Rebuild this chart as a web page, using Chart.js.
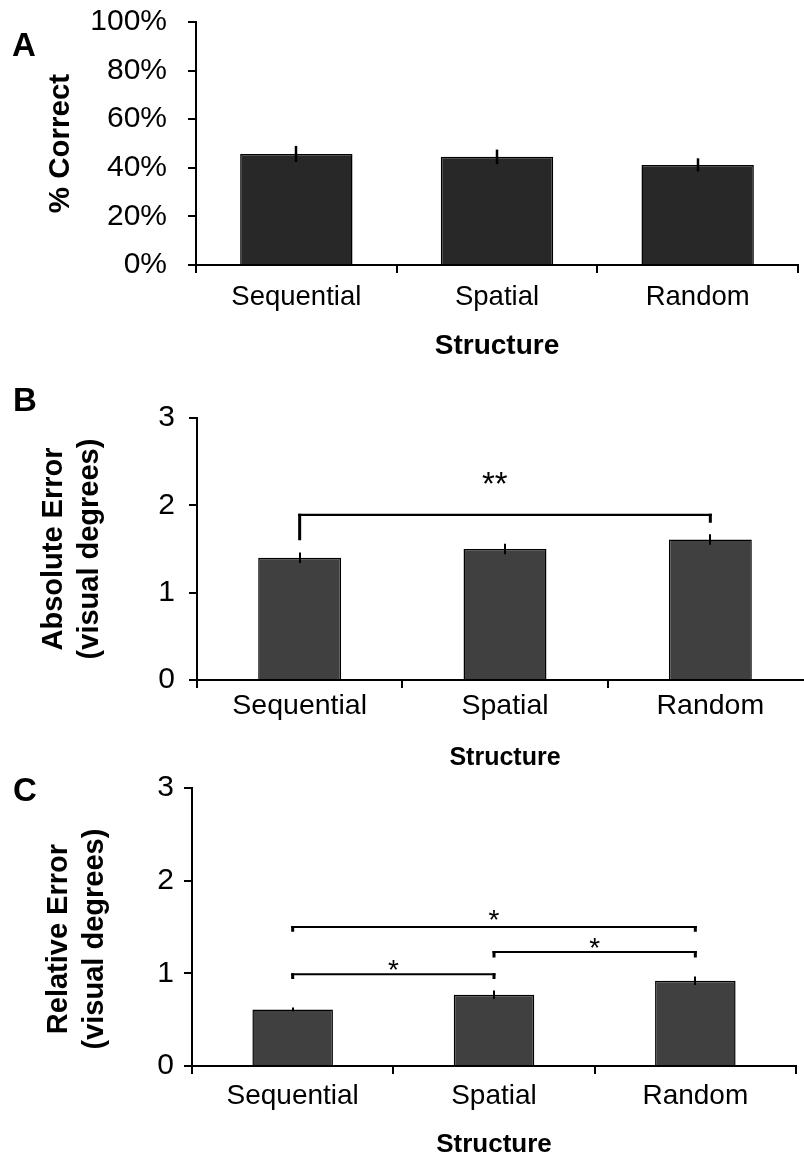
<!DOCTYPE html>
<html>
<head>
<meta charset="utf-8">
<script src="https://cdn.jsdelivr.net/npm/chart.js@4.4.1/dist/chart.umd.min.js"></script>
<style>
  html, body { margin: 0; padding: 0; background: #fff; overflow: hidden; width: 804px; height: 1157px; }
  .panel { position: absolute; left: 0; }
  #wrapA { top: 0; }
  #wrapB { top: 370px; }
  #wrapC { top: 770px; }
</style>
</head>
<body>
<div class="panel" id="wrapA"><canvas id="chartA" width="804" height="370"></canvas></div>
<div class="panel" id="wrapB"><canvas id="chartB" width="820" height="410"></canvas></div>
<div class="panel" id="wrapC"><canvas id="chartC" width="804" height="395"></canvas></div>
<script>
// ---- data ----
const categories = ['Sequential', 'Spatial', 'Random'];

// Panel A: accuracy (% correct) with standard error
const correctPct = [45.7, 44.5, 41.2];
const correctSE = [3.3, 3.0, 2.7];

// Panel B: absolute error (visual degrees) with standard error
const absError = [1.40, 1.50, 1.61];
const absErrorSE = [0.06, 0.06, 0.06];

// Panel C: relative error (visual degrees) with standard error
const relError = [0.61, 0.77, 0.92];
const relErrorSE = [0.02, 0.045, 0.045];

// Significance brackets (category indices, values in axis units)
const absBrackets = [
  { from: 0, to: 2, level: 1.89, fromEnd: 1.60, toEnd: 1.80, mark: '**', markAt: 0.95, markLevel: 2.33 }
];
const relBrackets = [
  { from: 0, to: 2, level: 1.50, fromEnd: 1.45, toEnd: 1.45, mark: '*', markAt: 1.0, markLevel: 1.65 },
  { from: 1, to: 2, level: 1.23, fromEnd: 1.17, toEnd: 1.17, mark: '*', markAt: 1.5, markLevel: 1.34 },
  { from: 0, to: 1, level: 0.99, fromEnd: 0.94, toEnd: 0.94, mark: '*', markAt: 0.5, markLevel: 1.11 }
];

const FONT = "'Liberation Sans', Arial, Helvetica, sans-serif";

// Error bars, significance brackets and the panel letter
const annotate = {
  id: 'annotate',
  afterDatasetsDraw(chart, args, opts) {
    const ctx = chart.ctx;
    const xs = chart.scales.x, ys = chart.scales.y;
    const meta = chart.getDatasetMeta(0);
    const values = chart.data.datasets[0].data;
    ctx.save();
    ctx.strokeStyle = '#000';
    ctx.lineCap = 'butt';
    // error bars
    ctx.lineWidth = opts.errWidth;
    (opts.errors || []).forEach((e, i) => {
      const px = Math.round(meta.data[i].x);
      ctx.beginPath();
      ctx.moveTo(px, ys.getPixelForValue(values[i] - e));
      ctx.lineTo(px, ys.getPixelForValue(values[i] + e));
      ctx.stroke();
    });
    // brackets
    (opts.brackets || []).forEach(b => {
      const x1 = xs.getPixelForValue(b.from), x2 = xs.getPixelForValue(b.to);
      const yl = ys.getPixelForValue(b.level);
      ctx.lineWidth = opts.bracketWidth;
      ctx.beginPath();
      ctx.moveTo(x1 - opts.legWidth / 2, yl);
      ctx.lineTo(x2 + opts.legWidth / 2, yl);
      ctx.stroke();
      ctx.lineWidth = opts.legWidth;
      ctx.beginPath();
      ctx.moveTo(x1, yl - opts.bracketWidth / 2);
      ctx.lineTo(x1, ys.getPixelForValue(b.fromEnd));
      ctx.moveTo(x2, yl - opts.bracketWidth / 2);
      ctx.lineTo(x2, ys.getPixelForValue(b.toEnd));
      ctx.stroke();
      ctx.fillStyle = '#000';
      ctx.font = opts.markFont;
      ctx.textAlign = 'center';
      ctx.textBaseline = 'alphabetic';
      ctx.fillText(b.mark, xs.getPixelForValue(b.markAt), ys.getPixelForValue(b.markLevel) + opts.markSize * 0.55);
    });
    ctx.restore();
  },
  afterDraw(chart, args, opts) {
    const ctx = chart.ctx;
    ctx.save();
    ctx.fillStyle = '#000';
    ctx.font = "bold 33px " + FONT;
    ctx.textAlign = 'center';
    ctx.textBaseline = 'middle';
    ctx.fillText(opts.letter, opts.letterX, opts.letterY);
    ctx.restore();
  }
};

function makeChart(id, c) {
  return new Chart(document.getElementById(id), {
    type: 'bar',
    data: {
      labels: categories,
      datasets: [{
        data: c.values,
        backgroundColor: c.fill,
        borderColor: '#000',
        borderWidth: 1.5,
        barPercentage: c.barPct,
        categoryPercentage: 1
      }]
    },
    options: {
      responsive: false,
      animation: false,
      events: [],
      layout: { padding: { left: 0, top: c.top, right: c.right, bottom: 0 } },
      plugins: {
        legend: { display: false },
        tooltip: { enabled: false },
        annotate: {
          errors: c.errors, errWidth: c.errWidth,
          brackets: c.brackets || [], bracketWidth: 2.2, legWidth: 3,
          markFont: c.markSize + 'px ' + FONT, markSize: c.markSize,
          letter: c.letter, letterX: c.letterX, letterY: c.letterY
        }
      },
      scales: {
        x: {
          type: 'category',
          offset: true,
          z: 1,
          grid: { display: true, drawOnChartArea: false, drawTicks: true, tickLength: 8, color: '#000', lineWidth: 2, offset: true },
          border: { display: true, color: '#000', width: 2 },
          ticks: { color: '#000', font: { family: FONT, size: c.xFont }, padding: c.xPad, maxRotation: 0, autoSkip: false },
          title: {
            display: true, text: 'Structure', color: '#000',
            font: { family: FONT, size: c.xTitleFont, weight: 'bold' },
            padding: { top: 0, bottom: c.xTitlePad }
          },
          afterFit: s => { s.height = c.xHeight; s.paddingLeft = 0; s.paddingRight = 0; }
        },
        y: {
          min: 0, max: c.max,
          z: 1,
          grid: { display: true, drawOnChartArea: false, drawTicks: true, tickLength: 8, color: '#000', lineWidth: 2 },
          border: { display: true, color: '#000', width: 2 },
          ticks: { stepSize: c.step, color: '#000', font: { family: FONT, size: c.yFont }, padding: c.yPad, callback: c.tickFmt },
          title: {
            display: true, text: c.yTitle, color: '#000',
            font: { family: FONT, size: c.yTitleFont, weight: 'bold', lineHeight: 1.25 },
            padding: { top: c.yTitlePad, bottom: 0 }
          },
          afterFit: s => { s.width = c.yWidth; s.paddingTop = 0; s.paddingBottom = 0; }
        }
      }
    },
    plugins: [annotate]
  });
}

// A: % correct
makeChart('chartA', {
  values: correctPct, errors: correctSE, errWidth: 2.5,
  fill: '#282828', barPct: 0.56,
  top: 22, right: 6, yWidth: 196, xHeight: 105,
  max: 100, step: 20, tickFmt: v => v + '%', yFont: 30, yPad: 21,
  yTitle: '% Correct', yTitleFont: 29.5, yTitlePad: 42,
  xFont: 27.5, xPad: 8, xTitleFont: 28, xTitlePad: 7,
  markSize: 28,
  letter: 'A', letterX: 24, letterY: 47
});

// B: absolute error
makeChart('chartB', {
  values: absError, errors: absErrorSE, errWidth: 2,
  fill: '#404040', barPct: 0.404,
  brackets: absBrackets,
  top: 48, right: 7, yWidth: 197, xHeight: 100,
  max: 3, step: 1, tickFmt: v => v, yFont: 30, yPad: 14,
  yTitle: ['Absolute Error', '(visual degrees)'], yTitleFont: 29, yTitlePad: 36,
  xFont: 28.5, xPad: 1, xTitleFont: 25, xTitlePad: 7,
  markSize: 33,
  letter: 'B', letterX: 25, letterY: 32
});

// C: relative error
makeChart('chartC', {
  values: relError, errors: relErrorSE, errWidth: 2,
  fill: '#404040', barPct: 0.40,
  brackets: relBrackets,
  top: 18, right: 8, yWidth: 192, xHeight: 99,
  max: 3, step: 1, tickFmt: v => v, yFont: 30, yPad: 10,
  yTitle: ['Relative Error   ', '(visual degrees)   '], yTitleFont: 29, yTitlePad: 41,
  xFont: 28, xPad: 5, xTitleFont: 26, xTitlePad: 5,
  markSize: 28,
  letter: 'C', letterX: 25, letterY: 22
});
</script>
</body>
</html>
